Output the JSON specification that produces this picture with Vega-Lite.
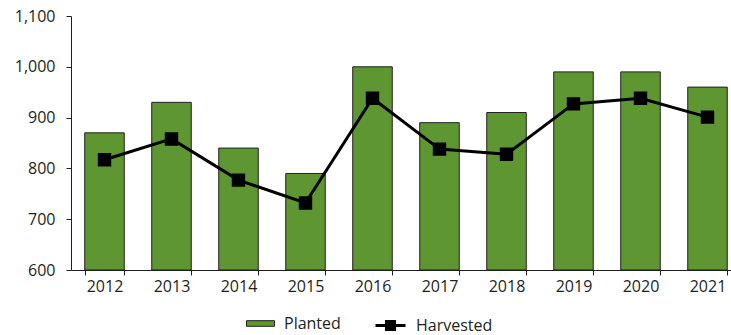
{
  "$schema": "https://vega.github.io/schema/vega-lite/v6.json",
  "width": 660,
  "height": 254,
  "autosize": {"type": "none"},
  "padding": {"left": 71, "top": 16, "right": 0, "bottom": 65},
  "background": "white",
  "config": {
    "view": {"stroke": null},
    "font": "Open Sans",
    "axis": {"labelFont": "Open Sans", "labelFontSize": 16, "labelColor": "#231f20", "domainColor": "#231f20", "tickColor": "#231f20", "grid": false, "title": null},
    "legend": {"labelFont": "Open Sans", "labelFontSize": 16, "labelColor": "#231f20"}
  },
  "data": {"values": [
    {"year": "2012", "planted": 870, "harvested": 817},
    {"year": "2013", "planted": 930, "harvested": 858},
    {"year": "2014", "planted": 840, "harvested": 777},
    {"year": "2015", "planted": 790, "harvested": 732},
    {"year": "2016", "planted": 1000, "harvested": 938},
    {"year": "2017", "planted": 890, "harvested": 838},
    {"year": "2018", "planted": 910, "harvested": 828},
    {"year": "2019", "planted": 990, "harvested": 927},
    {"year": "2020", "planted": 990, "harvested": 938},
    {"year": "2021", "planted": 960, "harvested": 901}
  ]},
  "encoding": {
    "x": {"field": "year", "type": "nominal", "scale": {"range": [0, 670], "paddingInner": 0.41, "paddingOuter": 0.205},
      "axis": {"labelAngle": 0, "tickBand": "extent", "tickSize": 5, "labelPadding": 3, "domainWidth": 1}}
  },
  "layer": [
    {
      "mark": {"type": "bar", "stroke": "#231f20", "strokeWidth": 1},
      "encoding": {
        "y": {"field": "planted", "type": "quantitative", "scale": {"domain": [600, 1100], "clamp": true}, "axis": {"values": [600, 700, 800, 900, 1000, 1100], "format": ",d", "tickSize": 5, "labelPadding": 11}},
        "y2": {"datum": 600},
        "fill": {"datum": "Planted", "type": "nominal", "scale": {"range": ["#5e9732"]},
          "legend": {"orient": "none", "legendX": 175, "legendY": 293, "title": null, "symbolType": "M-1,-0.2H1V0.2H-1Z", "symbolSize": 784, "symbolStrokeColor": "#231f20", "symbolStrokeWidth": 1, "labelOffset": 9}}
      }
    },
    {
      "mark": {"type": "line", "color": "black", "strokeWidth": 3, "point": {"shape": "square", "size": 130, "filled": true, "color": "black"}},
      "encoding": {
        "y": {"field": "harvested", "type": "quantitative"},
        "stroke": {"datum": "Harvested", "type": "nominal", "scale": {"range": ["black"]},
          "legend": {"orient": "none", "legendX": 303, "legendY": 293, "title": null, "symbolType": "M-1,0H1M-0.27,-0.27H0.27V0.27H-0.27Z", "symbolSize": 900, "symbolStrokeWidth": 3, "symbolFillColor": "black", "labelOffset": 9}}
      }
    }
  ]
}
